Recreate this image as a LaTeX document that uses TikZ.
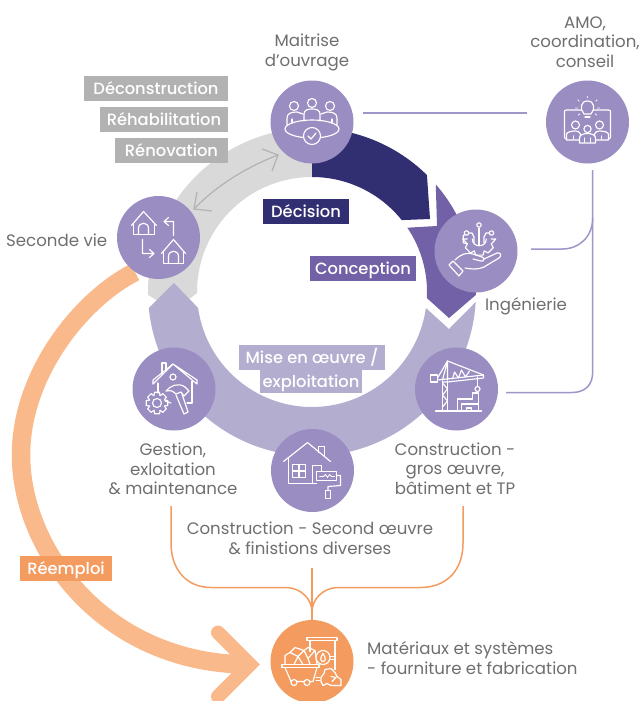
\documentclass[tikz,border=0pt]{standalone}
\usepackage{fontspec}
\setmainfont{Poppins}
\newfontfamily\pmed{Poppins Medium}
\definecolor{cdark}{HTML}{312E72}
\definecolor{cconc}{HTML}{7261A6}
\definecolor{cring}{HTML}{B3ADD0}
\definecolor{cgray}{HTML}{D9D9D9}
\definecolor{cbub}{HTML}{9A8DC2}
\definecolor{cline}{HTML}{A095C8}
\definecolor{corg}{HTML}{F49C5F}
\definecolor{cpeach}{HTML}{FAB98A}
\definecolor{clab}{HTML}{B2B2B2}
\definecolor{ctxt}{HTML}{6F6F6F}
\tikzset{
 bub/.style={circle,fill=cbub,minimum size=83pt,inner sep=0pt},
 txt/.style={text=ctxt,align=center,font=\fontsize{16.6}{19.6}\selectfont,inner sep=0pt},
 lab/.style={text=white,font=\pmed\fontsize{16.3}{18}\selectfont,inner sep=0pt,minimum height=25pt,text height=15pt,text depth=3pt},
 ic/.style={draw=white,line width=1.15pt,line join=round,line cap=round},
 pl/.style={draw=cline,line width=1.5pt},
 ol/.style={draw=corg,line width=1.5pt},
 iconat/.style={shift={(#1)},y=-1pt}
}
\begin{document}
\begin{tikzpicture}[x=1pt,y=1pt]
\clip (0,0) rectangle (641,-701);
\fill[white] (0,0) rectangle (641,-701);
% ring
\begin{scope}[shift={(312,-292)}]
\fill[cgray] (90:164pt) arc (90:181:164pt) -- (-138,-19) -- (180.5:115pt) arc (180.5:90:115pt) -- cycle;
\fill[cring] (-3.5:164pt) arc (-3.5:-174.4:164pt) -- (-138,9) -- (-172:115pt) arc (-172:-8:115pt) -- (137,-37) -- cycle;
\fill[cconc] (41:164pt) arc (41:-1:164pt) -- (137,-26) -- (-3:115pt) arc (-3:34:115pt) -- (125,66) -- cycle;
\fill[cdark] (90:164pt) arc (90:45.5:164pt) -- (118,73) -- (38.7:115pt) arc (38.7:90:115pt) -- cycle;
\end{scope}
% gray double arrow
\coordinate (ga) at (278,-155);
\coordinate (gb) at (194,-209);
\draw[clab,line width=1.2pt] (ga) .. controls (247,-167) and (217,-185) .. (gb);
\draw[clab,line width=1.2pt] (262,-149) -- (ga) -- (272,-171);
\draw[clab,line width=1.2pt] (197,-192) -- (gb) -- (212,-211);
% reuse arrow
\coordinate (ra) at (135,-272);
\coordinate (rb) at (250,-664.5);
\draw[cpeach,line width=18.5pt] (ra) .. controls (80,-300) and (21,-375) .. (21,-455) .. controls (21,-550) and (105,-664.5) .. (rb);
\draw[cpeach,line width=14pt,line cap=round,miter limit=5] (218,-632.5) -- (rb) -- (218,-696.5);
% connectors
\coordinate (m1) at (363,-113); \coordinate (m2) at (527,-113);
\draw[pl] (m1) -- (m2);
\coordinate (v1) at (592.7,-170); \coordinate (v2) at (506,-392.5);
\draw[pl] (v1) -- (592.7,-372) .. controls (592.7,-385) and (585,-392.5) .. (572,-392.5) -- (v2);
\coordinate (b1) at (531,-249);
\draw[pl] (b1) -- (562,-249) .. controls (580,-249) and (592.7,-236) .. (592.7,-218);
\coordinate (o1) at (171,-506); \coordinate (o2) at (463,-506); \coordinate (o3) at (312,-568); \coordinate (o4) at (312,-625);
\draw[ol] (o1) -- (171,-543) .. controls (171,-570) and (187,-587.5) .. (211,-587.5) -- (285,-587.5) .. controls (302,-587.5) and (312,-600) .. (312,-612);
\draw[ol] (o2) -- (463,-543) .. controls (463,-570) and (447,-587.5) .. (420,-587.5) -- (339,-587.5) .. controls (322,-587.5) and (312,-600) .. (312,-612);
\draw[ol] (o3) -- (o4);
% bubbles
\node[bub] (mo) at (312,-122) {};
\node[bub] (ing) at (476,-251) {};
\node[bub] (amo) at (587.5,-122) {};
\node[bub] (con) at (456.5,-389) {};
\node[bub] (ges) at (174,-389) {};
\node[bub] (sec) at (312.5,-470.5) {};
\node[bub] (vie) at (158.5,-237.5) {};
\node[bub,fill=corg] (mat) at (312,-661.5) {};
% texts
\node[txt] (tmo) at (307,-52.5) {Maitrise\\d’ouvrage};
\node[txt] (tamo) at (585,-42) {AMO,\\coordination,\\conseil};
\node[txt,anchor=west] (tvie) at (6,-240) {Seconde vie};
\node[txt] (ting) at (526,-306.5) {Ingénierie};
\node[txt] (tges) at (173,-469) {Gestion,\\exloitation\\\& maintenance};
\node[txt] (tcon) at (455,-468.5) {Construction -\\gros œuvre,\\bâtiment et TP};
\node[txt] (tsec) at (310,-538) {Construction - Second œuvre\\\& finistions diverses};
\node[txt,anchor=west,align=left] (tmat) at (367,-658) {Matériaux et systèmes\\- fourniture et fabrication};
% labels
\node[lab,fill=clab,minimum width=144pt] (l1) at (156,-88.5) {Déconstruction};
\node[lab,fill=clab,minimum width=128pt] (l2) at (164,-119.5) {Réhabilitation};
\node[lab,fill=clab,minimum width=113pt] (l3) at (171.5,-150.5) {Rénovation};
\node[lab,fill=cdark,minimum width=86pt] (l4) at (306,-211.5) {Décision};
\node[lab,fill=cconc,minimum width=106pt] (l5) at (363,-268.5) {Conception};
\node[lab,fill=cring,minimum width=146pt] (l6) at (312,-357.5) {Mise en œuvre /};
\node[lab,fill=cring,minimum width=102pt,minimum height=23pt] (l7) at (311,-381.5) {exploitation};
\node[lab,fill=corg,minimum width=92pt] (l8) at (66,-568.5) {Réemploi};
% icon: meeting
\begin{scope}[iconat=mo]
\draw[ic] (-18,-16) circle (4.5pt) (0,-19) circle (4.5pt) (18,-16) circle (4.5pt);
\draw[ic] (-8,-1) -- (-8,-8) .. controls (-8,-12) and (-4,-13) .. (0,-13) .. controls (4,-13) and (8,-12) .. (8,-8) -- (8,-1);
\draw[ic] (-25,3) -- (-25,-4) .. controls (-25,-9) and (-20,-10) .. (-15,-10) -- (-9,-8);
\draw[ic] (25,3) -- (25,-4) .. controls (25,-9) and (20,-10) .. (15,-10) -- (9,-8);
\draw[ic] (-20,-3) -- (-20,1) (20,-3) -- (20,1);
\draw[ic] (0,7) ellipse (27pt and 9pt);
\draw[ic,fill=cbub] (0,14) circle (8.5pt);
\draw[ic] (-4,14) -- (-1,17) -- (4,11);
\end{scope}
% icon: hand and gear
\begin{scope}[iconat=ing]
\draw[ic] (-27,14) -- (-23,10) -- (-13,20) -- (-17,25) -- cycle;
\draw[ic] (-21,9) .. controls (-15,3) and (-9,1) .. (-3,3) -- (6,6) .. controls (9,7) and (8,11) .. (5,10) -- (-3,8);
\draw[ic] (8,8) -- (21,2) .. controls (25,1) and (26,5) .. (23,7) -- (8,16) .. controls (2,19) and (-6,18) .. (-11,17);
\begin{scope}[shift={(3.3,-12)}]
\foreach \a in {0,45,...,135} \draw[ic] (\a+22:13) -- (\a+23:13) -- (\a+32:16.5) -- (\a+58:16.5) -- (\a+67:13);
\draw[ic] (0:16.5) -- (22:13) (180:16.5) -- (158:13) (0:16.5) -- (0:12) (180:16.5) -- (180:12);
\draw[ic] (0:7) .. controls (7,9) and (-7,9) .. (180:7);
\end{scope}
\draw[ic] (3,-23) -- (3,-6);
\draw[ic,fill=cbub] (3,-26) circle (2.2pt);
\draw[ic] (-7,-18) -- (-4,-18) -- (-2,-14) -- (-2,-8);
\draw[ic] (13,-18) -- (10,-18) -- (8,-14) -- (8,-8);
\draw[ic,fill=cbub] (-9.5,-18) circle (2.2pt);
\draw[ic,fill=cbub] (15.5,-18) circle (2.2pt);
\end{scope}
% icon: two houses
\begin{scope}[iconat=vie]
\draw[ic] (-27,-12) -- (-15,-26) -- (-2,-12);
\draw[ic] (-25,-13) -- (-25,-3) -- (-4,-3) -- (-4,-13);
\draw[ic] (-20,-3) -- (-20,-9) .. controls (-20,-16) and (-10,-16) .. (-10,-9) -- (-10,-3);
\draw[ic] (3,16) -- (15,2) -- (27,16);
\draw[ic] (5,15) -- (5,26) -- (25,26) -- (25,15);
\draw[ic] (10,26) -- (10,19) .. controls (10,12) and (20,12) .. (20,19) -- (20,26);
\draw[ic] (15,-2) -- (15,-16) -- (6,-16) (10,-20) -- (5.5,-16) -- (10,-12);
\draw[ic] (-16,2) -- (-16,16) -- (-5,16) (-9,12) -- (-4.5,16) -- (-9,20);
\end{scope}
% icon: management
\begin{scope}[iconat=ges]
\draw[ic] (-21,-5) -- (-1,-25) -- (23,-5) -- (23,-9) -- (-1,-25);
\draw[ic] (-21,-5) -- (-21,-9) -- (-1,-25);
\draw[ic] (-12,-15) -- (-12,-26) -- (-8,-26) -- (-8,-18);
\draw[ic] (-16,-6) -- (-16,4) (18,-8) -- (18,14) -- (13,14);
\draw[ic] (-1,-12) circle (3pt);
\draw[ic] (-9,12) -- (-3,14);
\begin{scope}[shift={(-17,14)}]
\foreach \a in {0,45,...,315} \draw[ic] (\a-23:8) -- (\a-13:11) -- (\a+13:11) -- (\a+22:8) -- (\a+23:8);
\draw[ic] (0,0) circle (4.5pt);
\end{scope}
\draw[ic] (-8,2) .. controls (-4,-3) and (4,-7) .. (11,-2) -- (15,2) -- (10,7) -- (7,3) -- (2,5) .. controls (-2,1) and (-5,1) .. (-8,2);
\draw[ic] (2,6) -- (10,25) -- (14,23) -- (8,5);
\end{scope}
% icon: house and roller
\begin{scope}[iconat=sec]
\draw[ic] (-29,-9) -- (-5,-28) -- (18,-9);
\draw[ic] (-24,-12) -- (-24,13) -- (4,13) ;
\draw[ic] (-20,-6) rectangle (-7,7) (-13.5,-6) -- (-13.5,7) (-20,0.5) -- (-7,0.5);
\draw[ic] (6,-18) -- (6,-24) -- (12,-24) -- (12,-14);
\draw[ic] (0,13) -- (0,-5) -- (9,-5) -- (9,1);
\draw[ic,fill=cbub] (4,1) rectangle (24,10);
\draw[ic,line width=.8pt] (7,6) -- (11,6) -- (13,4) -- (15,7) -- (17,4) -- (19,6) -- (22,6);
\draw[ic] (24,5) -- (28,5) -- (28,15) -- (15.5,16) -- (15.5,20);
\draw[ic] (13,20) rectangle (18,28);
\end{scope}
% icon: crane
\begin{scope}[iconat=con]
\draw[ic] (-21,22) -- (25,22);
\draw[ic] (-14,22) -- (-14,-8) (-9,22) -- (-9,-8);
\draw[ic] (-14,18) -- (-9,12) -- (-14,6) -- (-9,0) -- (-14,-6);
\draw[ic] (-26,-14) rectangle (-19,-7);
\draw[ic] (-19,-11) -- (-9,-28) -- (27,-14);
\draw[ic] (-19,-9) -- (27,-14) -- (27,-11) -- (-9,-7) -- (-14,-7);
\draw[ic] (-14,-9) -- (-9,-28) -- (-9,-9);
\draw[ic] (-4,-10) -- (-2,-17) -- (2,-11) -- (5,-19) -- (9,-12) -- (13,-18);
\draw[ic] (21,-12) -- (21,-3);
\draw[ic] (21,0) circle (2.5pt);
\draw[ic] (1,22) -- (1,10) -- (16,10) -- (16,4) -- (22,4) -- (22,22);
\draw[ic] (5,22) -- (5,15) -- (22,15);
\draw[ic] (10,22) -- (10,19) -- (15,19) -- (15,22);
\end{scope}
% icon: AMO
\begin{scope}[iconat=amo]
\draw[ic] (-6,-12) -- (-21,-12) .. controls (-23,-12) and (-23,-11) .. (-23,-10) -- (-23,15) .. controls (-23,16) and (-22,17) .. (-21,17);
\draw[ic] (6,-12) -- (21,-12) .. controls (23,-12) and (23,-11) .. (23,-10) -- (23,15) .. controls (23,16) and (22,17) .. (21,17);
\draw[ic] (-3.5,-8) .. controls (-8,-13) and (-7,-21) .. (0,-21) .. controls (7,-21) and (8,-13) .. (3.5,-8) -- (-3.5,-8);
\draw[ic] (-2.5,-5) -- (2.5,-5);
\draw[ic,line width=.9pt] (0,-24.5) -- (0,-25.5) (-8.5,-21) -- (-9.5,-22) (8.5,-21) -- (9.5,-22) (-10,-14) -- (-12,-14) (10,-14) -- (12,-14) (-8,-8) -- (-9,-7) (8,-8) -- (9,-7);
\draw[ic] (-12,3) circle (4pt) (12,3) circle (4pt) (0,7) circle (3.6pt);
\draw[ic] (-7,18) -- (-7,12) .. controls (-7,8) and (-19,8) .. (-21,12) -- (-21,18) -- (-7,18);
\draw[ic] (7,18) -- (7,12) .. controls (7,8) and (19,8) .. (21,12) -- (21,18) -- (7,18);
\draw[ic,fill=cbub] (-8,21) -- (-8,16) .. controls (-8,10) and (8,10) .. (8,16) -- (8,21) -- cycle;
\draw[ic] (-3,20) -- (-3,16) (3,20) -- (3,16) (-14,17) -- (-14,14) (14,17) -- (14,14);
\end{scope}
% icon: materials
\begin{scope}[iconat=mat]
\draw[ic] (-2,-21) -- (-2,-10) (23,-21) -- (23,8);
\draw[ic] (-5,-24) rectangle (25,-21);
\draw[ic] (-30,3) rectangle (7,6);
\draw[ic] (-27,6) -- (-21,20) -- (1,20) -- (5,6);
\draw[ic,fill=corg] (-18,21) circle (3pt) (-5,21) circle (3pt);
\draw[ic] (-27,3) -- (-27,-6) -- (-22,-9) -- (-17,-14) -- (-8,-11) -- (-4,-14) -- (3,-11) -- (4,-4) -- (5,3);
\draw[ic] (-22,-9) -- (-14,-5) -- (-8,-11) -- (-4,-3) -- (3,-11);
\draw[ic] (-14,-5) -- (-18,3) (-14,-5) -- (-9,3) (-4,-3) -- (-2,3);
\draw[ic,fill=corg] (11,-4) circle (7pt);
\draw[ic] (11,-8) .. controls (8,-4) and (8,0) .. (11,0) .. controls (14,0) and (14,-4) .. (11,-8);
\draw[ic] (18,-5) -- (23,-5) (18,-2) -- (23,-2);
\draw[ic] (4,16) -- (8,16) (4,19) -- (8,19);
\draw[ic] (9,16) -- (12,12) -- (13,8) -- (19,7) -- (23,11) -- (25,15) -- (29,18) -- (29,24) -- (19,24) -- (15,22) -- (11,24) -- (9,20) -- cycle;
\draw[ic] (19,15) -- (24,16) -- (20,20);
\end{scope}
\end{tikzpicture}
\end{document}
